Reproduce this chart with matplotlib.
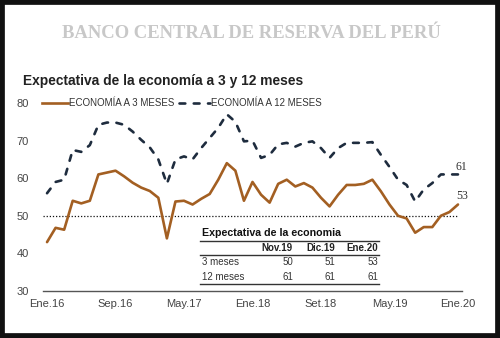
import matplotlib
matplotlib.use("Agg")
import matplotlib.pyplot as plt
from matplotlib.patches import Rectangle
from matplotlib.lines import Line2D

# ---- data ----
months_idx = list(range(49))  # Ene.16 .. Ene.20
tick_pos = [0, 8, 16, 24, 32, 40, 48]
tick_labels = ["Ene.16", "Sep.16", "May.17", "Ene.18", "Set.18", "May.19", "Ene.20"]

econ_3m = [43, 46.8, 46.3, 54, 53.3, 54, 61, 61.5, 62, 60.5, 58.8, 57.5,
           56.6, 54.8, 44, 53.8, 54, 53, 54.5, 55.8, 59.6, 64, 62, 54,
           59, 55.6, 53.5, 58.5, 59.6, 57.8, 58.7, 57.5, 54.8, 52.5, 55.6, 58.2,
           58.2, 58.5, 59.6, 56.5, 53, 50, 49.3, 45.5, 47, 47, 50, 51, 53]
econ_12m = [56, 59, 59.6, 67.5, 67, 68.8, 74.2, 74.8, 74.8, 74.2, 72.4, 70.2,
            68.2, 65, 58.5, 65, 65.8, 65, 68, 70.7, 73.4, 77, 75, 69.8,
            70, 65.4, 66.2, 69, 69.4, 68.4, 69.4, 69.8, 68, 65.4, 68, 69.4,
            69.4, 69.4, 69.6, 66.2, 63, 59.6, 58.2, 53.8, 57, 58.7, 61, 61, 61]

series_names = ["ECONOMÍA A 3 MESES", "ECONOMÍA A 12 MESES"]
table_title = "Expectativa de la economia"
table_cols = ["Nov.19", "Dic.19", "Ene.20"]
table_rows = ["3 meses", "12 meses"]
table_vals = [econ_3m[-3:], econ_12m[-3:]]

ORANGE = "#A35F22"
NAVY = "#1E2C3E"
W, H = 500, 338
DASH = (0, (2.2, 3.2))

fig = plt.figure(figsize=(W / 100, H / 100), dpi=100)
fig.patch.set_facecolor("white")


def fx(x):
    return x / W


def fy(y):
    return 1 - y / H


# border
fig.add_artist(Rectangle((0, 0), 1, 1, transform=fig.transFigure,
                         fill=False, edgecolor="#111111", linewidth=7))

fig.text(fx(251), fy(33), "BANCO CENTRAL DE RESERVA DEL PERÚ",
         family="Liberation Serif", fontweight="bold", fontsize=13.4,
         color="#C8C8C8", ha="center", va="center")
fig.text(fx(23), fy(81), "Expectativa de la economía a 3 y 12 meses",
         family="Liberation Sans", fontweight="bold", fontsize=9.9,
         color="#222222", ha="left", va="center")

ax = fig.add_axes([fx(43), fy(291), fx(462) - fx(43), fy(103) - fy(291)])
ax.set_xlim(-0.47, 48.47)
ax.set_ylim(30, 80)
ax.patch.set_alpha(0)

ax.axhline(50, xmin=0, xmax=(48 - -0.47) / 48.94, color="#111111",
           linestyle=(0, (1, 1.5)), linewidth=0.9)
ax.plot(months_idx, econ_3m, color=ORANGE, linewidth=1.9,
        solid_capstyle="round", solid_joinstyle="round")
ax.plot(months_idx, econ_12m, color=NAVY, linewidth=1.9,
        linestyle=DASH, dash_capstyle="round")

for sp in ["top", "right", "left"]:
    ax.spines[sp].set_visible(False)
ax.spines["bottom"].set_color("#555555")
ax.spines["bottom"].set_linewidth(1.0)
ax.set_yticks([30, 40, 50, 60, 70, 80])
ax.set_yticklabels(["30", "40", "50", "60", "70", "80"])
ax.set_xticks(tick_pos)
ax.set_xticklabels(tick_labels)
ax.tick_params(axis="both", length=0, labelsize=8, colors="#444444",
               labelfontfamily="Liberation Sans")
ax.tick_params(axis="y", pad=10)
ax.tick_params(axis="x", pad=6)

# end labels
ax.annotate(f"{econ_12m[-1]:.0f}", (48, econ_12m[-1]), xytext=(-1.5, 1),
            textcoords="offset points", fontsize=8.5, color="#333333",
            family="Liberation Serif", ha="left", va="bottom")
ax.annotate(f"{econ_3m[-1]:.0f}", (48, econ_3m[-1]), xytext=(-1.5, 2),
            textcoords="offset points", fontsize=8.5, color="#333333",
            family="Liberation Serif", ha="left", va="bottom")

# legend (manual)
fig.add_artist(Line2D([fx(42), fx(68)], [fy(103), fy(103)], color=ORANGE,
                      linewidth=1.9, transform=fig.transFigure))
fig.text(fx(69), fy(103), series_names[0], family="Liberation Sans",
         fontsize=7.0, color="#333333", ha="left", va="center")
fig.add_artist(Line2D([fx(179), fx(210)], [fy(103), fy(103)], color=NAVY,
                      linewidth=1.9, linestyle=DASH, dash_capstyle="round",
                      transform=fig.transFigure))
fig.text(fx(211), fy(103), series_names[1], family="Liberation Sans",
         fontsize=7.0, color="#333333", ha="left", va="center")

# table
fig.text(fx(202), fy(233), table_title, family="Liberation Sans",
         fontweight="bold", fontsize=7.7, color="#111111", ha="left", va="center")
for yy in [241, 255, 284]:
    fig.add_artist(Line2D([fx(200), fx(379)], [fy(yy), fy(yy)], color="#333333",
                          linewidth=1.0, transform=fig.transFigure))
col_right = [293, 335, 378]
for c, lab in enumerate(table_cols):
    fig.text(fx(col_right[c]), fy(248), lab, family="Liberation Sans",
             fontweight="bold", fontsize=7, color="#222222", ha="right", va="center")
row_y = [262, 277]
for r, rlab in enumerate(table_rows):
    fig.text(fx(202), fy(row_y[r]), rlab, family="Liberation Sans",
             fontsize=7, color="#333333", ha="left", va="center")
    for c in range(3):
        fig.text(fx(col_right[c]), fy(row_y[r]), f"{table_vals[r][c]:.0f}",
                 family="Liberation Sans", fontsize=7, color="#333333",
                 ha="right", va="center")

fig.savefig("out.png", dpi=100)
